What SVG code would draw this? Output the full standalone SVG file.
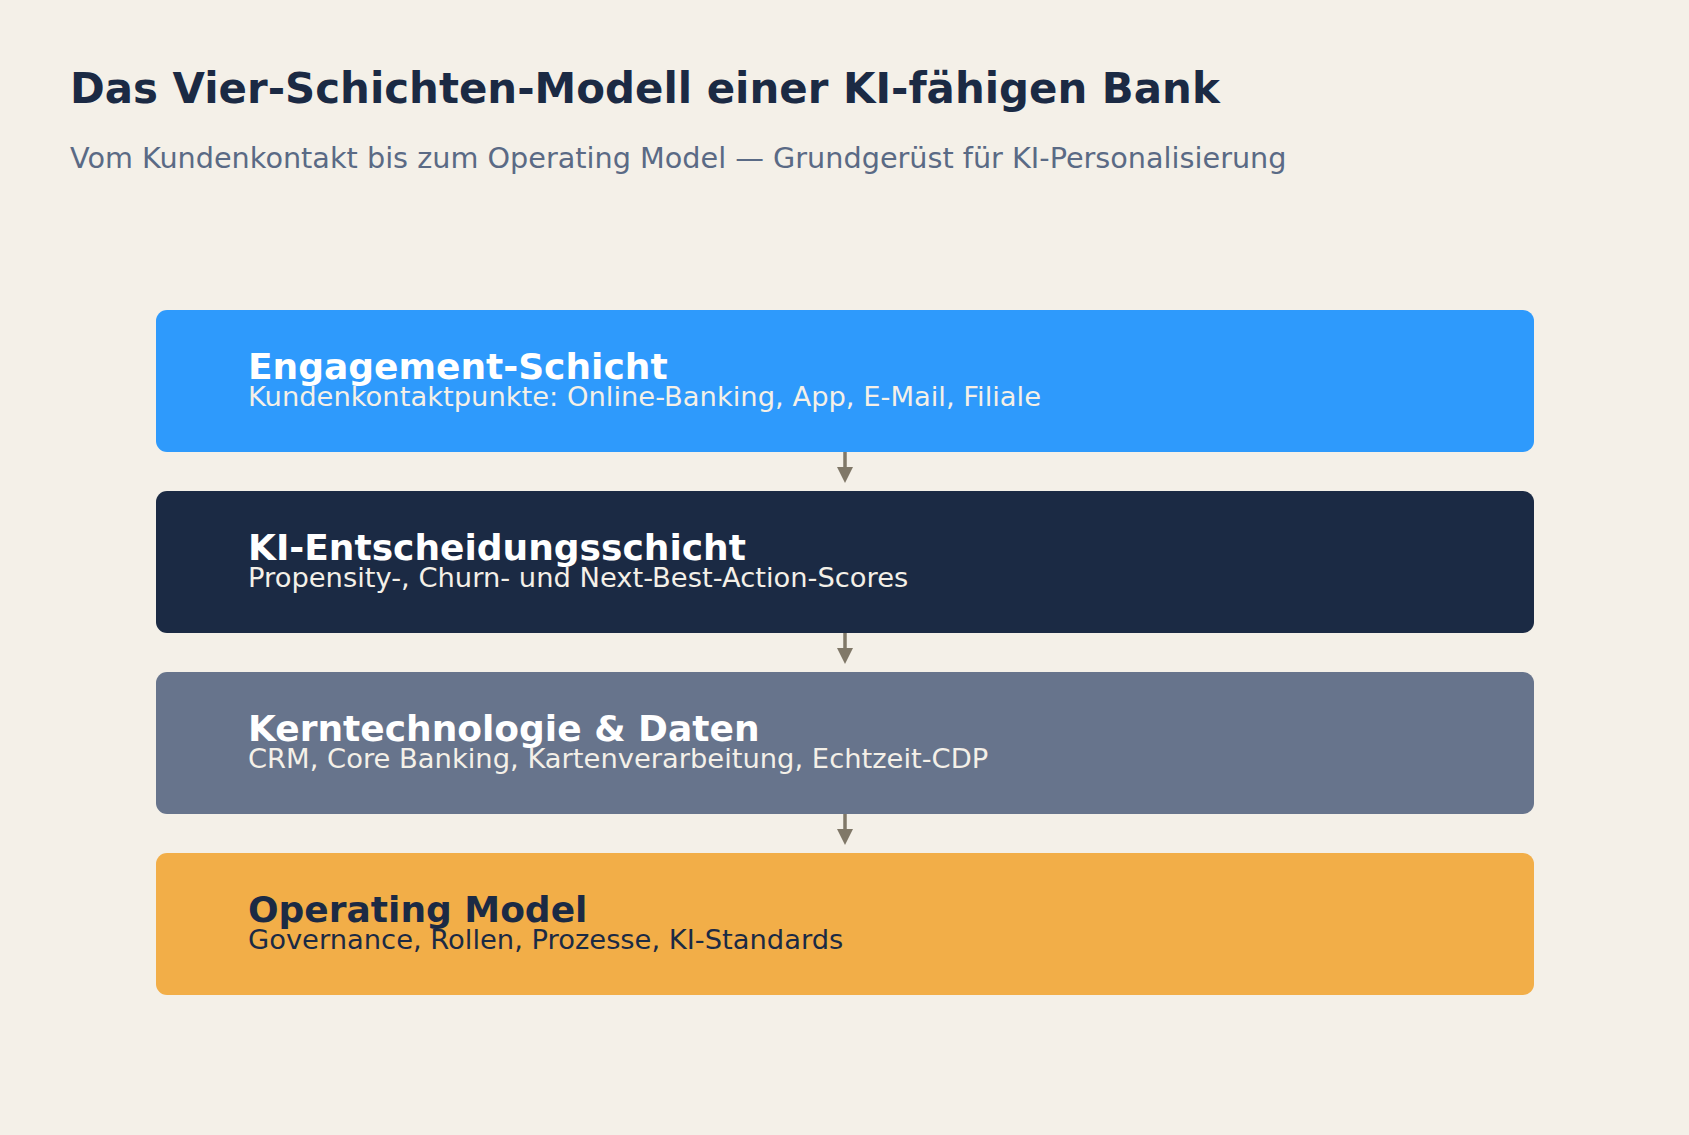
<svg xmlns="http://www.w3.org/2000/svg" width="1689" height="1135" viewBox="0 0 1689 1135">
<defs>
<style>
.bg{fill:#F4F0E8}
.title{font-family:"DejaVu Sans",sans-serif;font-weight:bold;font-size:41.9px;fill:#1B2A44}
.sub{font-family:"DejaVu Sans",sans-serif;font-size:28.7px;fill:#5A6A85}
.box{stroke:none}
.lt{font-family:"DejaVu Sans",sans-serif;font-weight:bold;font-size:36px}
.ls{font-family:"DejaVu Sans",sans-serif;font-size:27.35px}
.light{fill:#FFFFFF}
.lightsub{fill:#F4F0E8}
.dark{fill:#1B2A44}
.conn{stroke:#807868;stroke-width:3.5;fill:none}
.head{fill:#807868}
</style>
</defs>
<rect class="bg" x="0" y="0" width="1689" height="1135"/>
<text class="title" x="70" y="103">Das Vier-Schichten-Modell einer KI-fähigen Bank</text>
<text class="sub" x="70" y="168">Vom Kundenkontakt bis zum Operating Model — Grundgerüst für KI-Personalisierung</text>

<g id="layer-engagement">
<rect class="box" x="156" y="310" width="1378" height="142" rx="11" fill="#2E9AFC"/>
<text class="lt light" x="248" y="379">Engagement-Schicht</text>
<text class="ls lightsub" x="248" y="406">Kundenkontaktpunkte: Online-Banking, App, E-Mail, Filiale</text>
</g>
<g id="layer-ki">
<rect class="box" x="156" y="491" width="1378" height="142" rx="11" fill="#1B2A44"/>
<text class="lt light" x="248" y="560">KI-Entscheidungsschicht</text>
<text class="ls lightsub" x="248" y="587">Propensity-, Churn- und Next-Best-Action-Scores</text>
</g>
<g id="layer-core">
<rect class="box" x="156" y="672" width="1378" height="142" rx="11" fill="#67748C"/>
<text class="lt light" x="248" y="741">Kerntechnologie &amp; Daten</text>
<text class="ls lightsub" x="248" y="768">CRM, Core Banking, Kartenverarbeitung, Echtzeit-CDP</text>
</g>
<g id="layer-operating">
<rect class="box" x="156" y="853" width="1378" height="142" rx="11" fill="#F2AE48"/>
<text class="lt dark" x="248" y="922">Operating Model</text>
<text class="ls dark" x="248" y="949">Governance, Rollen, Prozesse, KI-Standards</text>
</g>

<g id="connectors">
<line class="conn" x1="845" y1="452" x2="845" y2="469"/>
<polygon class="head" points="837,467 853,467 845,483"/>
<line class="conn" x1="845" y1="633" x2="845" y2="650"/>
<polygon class="head" points="837,648 853,648 845,664"/>
<line class="conn" x1="845" y1="814" x2="845" y2="831"/>
<polygon class="head" points="837,829 853,829 845,845"/>
</g>
</svg>
